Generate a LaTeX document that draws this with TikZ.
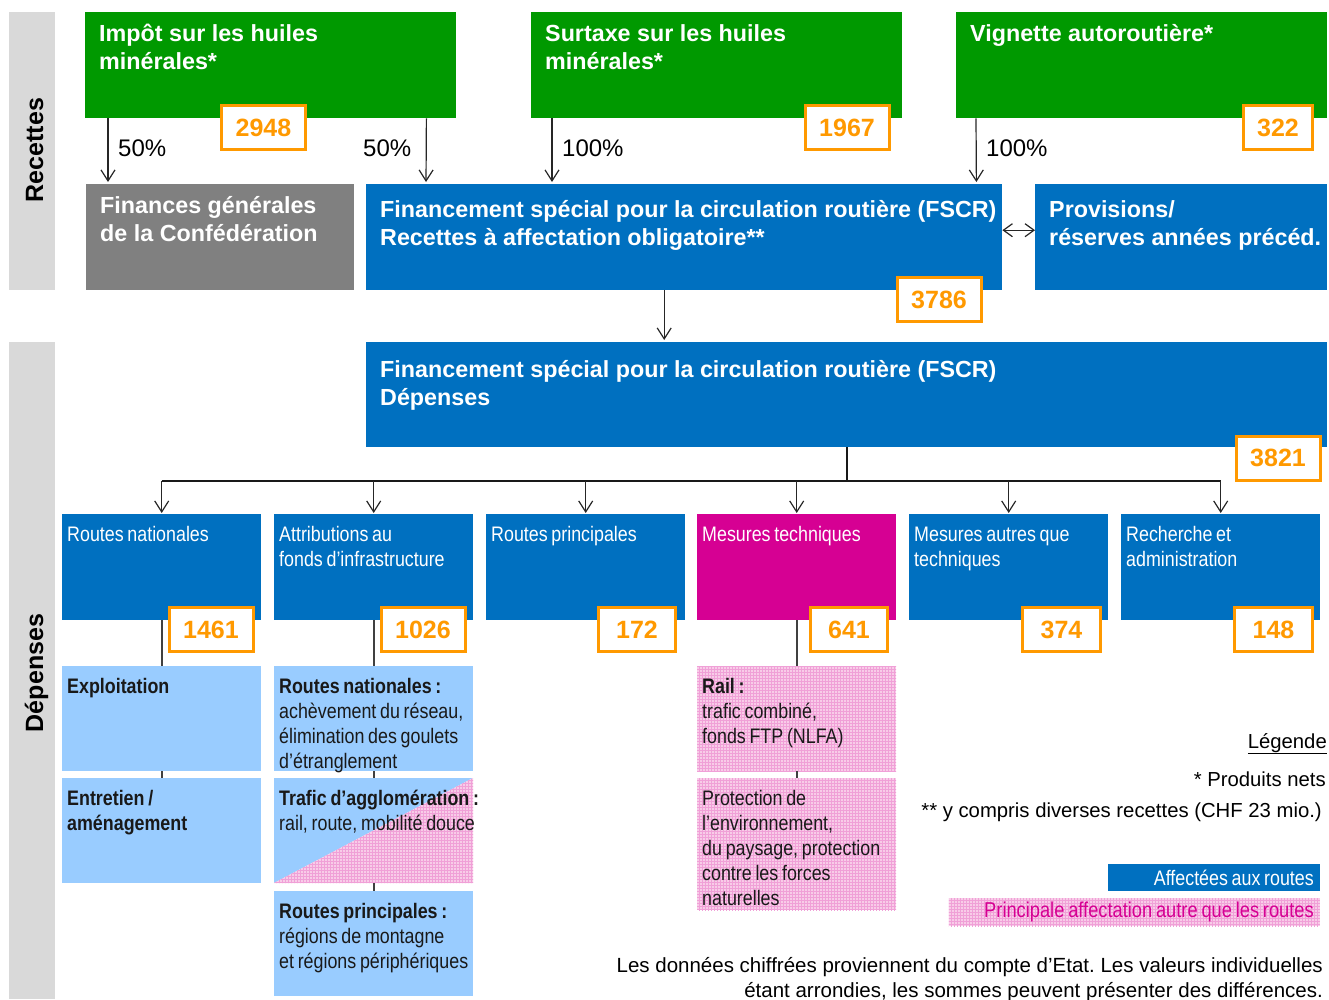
\documentclass[tikz,border=0pt]{standalone}
\usepackage{fontspec}
\setmainfont{Liberation Sans}
\newfontfamily\narrowfont[FakeStretch=0.85, WordSpace=0.75]{Liberation Sans}
\usetikzlibrary{arrows.meta,patterns}
\hyphenpenalty=10000
\exhyphenpenalty=10000
\frenchspacing

\definecolor{recgreen}{RGB}{0,153,0}
\definecolor{fscrblue}{RGB}{0,112,192}
\definecolor{fingray}{RGB}{128,128,128}
\definecolor{techpink}{RGB}{214,0,147}
\definecolor{paleblue}{RGB}{153,204,255}
\definecolor{valorange}{RGB}{255,153,0}
\definecolor{bandgray}{RGB}{217,217,217}
\definecolor{gridpink}{RGB}{248,204,232}
\definecolor{gridline}{RGB}{240,160,215}

\begin{document}
\begin{tikzpicture}[x=1pt, y=-1pt,
  head/.style={anchor=north west, inner xsep=14pt, inner ysep=0pt, text height=29pt,
    align=flush left, text=white, font=\bfseries\fontsize{23.3}{28}\selectfont},
  col/.style={anchor=north west, inner xsep=5pt, inner ysep=0pt, text height=27pt,
    text depth=79pt, text width=189pt, align=flush left, text=white,
    font=\narrowfont\fontsize{21}{25}\selectfont},
  sub/.style={anchor=north west, inner xsep=5pt, inner ysep=0pt, text height=27pt,
    text depth=78pt, text width=189pt, align=flush left, text=black!90,
    font=\narrowfont\fontsize{21}{25}\selectfont},
  pinkfill/.style={fill=gridpink, postaction={pattern=grid, pattern color=gridline}},
  val/.style={draw=valorange, line width=3pt, fill=white, text=valorange, inner sep=0pt,
    minimum width=84pt, minimum height=44pt, font=\bfseries\fontsize{25}{30}\selectfont},
  pct/.style={anchor=base west, inner sep=0pt, font=\fontsize{24}{28}\selectfont},
  side/.style={rotate=90, anchor=base, font=\bfseries\fontsize{25}{30}\selectfont},
  arr/.style={draw=black!85, line width=1.2pt, shorten >=2pt,
    -{Straight Barb[length=11pt,width=14pt]}},
  dblarr/.style={draw=black!85, line width=1.2pt,
    {Straight Barb[length=9pt,width=13pt]}-{Straight Barb[length=9pt,width=13pt]}},
  tree/.style={draw=black!90, line width=1.6pt},
  link/.style={draw=black!75, line width=2pt},
  note/.style={anchor=base east, inner sep=0pt, font=\fontsize{20.3}{25}\selectfont}]

\useasboundingbox (0,0) rectangle (1329,999);

% side bands
\fill[bandgray] (9,12) rectangle (55,290);
\fill[bandgray] (9,342) rectangle (55,999);
\node[side] (rec) at (43,150) {Recettes};
\node[side] (dpn) at (43,673) {Dépenses};

% recettes
\node[head, fill=recgreen, text width=343pt, text depth=77pt] (impot) at (85,12) {Impôt sur les huiles\\minérales*};
\node[head, fill=recgreen, text width=343pt, text depth=77pt] (surtaxe) at (531,12) {Surtaxe sur les huiles\\minérales*};
\node[head, fill=recgreen, text width=343pt, text depth=77pt] (vignette) at (956,12) {Vignette autoroutière*};

\node[head, fill=fingray, text width=240pt, text depth=77pt] (fingen) at (86,184) {Finances générales\\de la Confédération};
\node[head, fill=fscrblue, text width=608pt, text height=33pt, text depth=73pt] (fscr) at (366,184)
  {\mbox{Financement spécial pour la circulation routière (FSCR)}\\Recettes à affectation obligatoire**};
\node[head, fill=fscrblue, text width=264pt, text height=33pt, text depth=73pt] (prov) at (1035,184) {Provisions/\\\mbox{réserves années précéd.}};

\node[pct] (p1) at (118,156) {50\%};
\node[pct] (p2) at (363,156) {50\%};
\node[pct] (p3) at (562,156) {100\%};
\node[pct] (p4) at (986,156) {100\%};

\draw[arr] ([xshift=23pt]impot.south west) -- ([xshift=22pt]fingen.north west);
\draw[arr] ([xshift=-30pt]impot.south east) -- ([xshift=60pt]fscr.north west);
\draw[arr] ([xshift=21pt]surtaxe.south west) -- ([xshift=186pt]fscr.north west);
\draw[arr] ([xshift=20pt]vignette.south west) -- ([xshift=-26pt]fscr.north east);
\draw[dblarr] ([yshift=7pt]fscr.east) -- ([yshift=7pt]prov.west);

% depenses
\node[head, fill=fscrblue, text width=933pt, text height=35pt, text depth=70pt] (dep) at (366,342)
  {Financement spécial pour la circulation routière (FSCR)\\Dépenses};
\draw[arr] ([xshift=-20pt]fscr.south) -- ([xshift=-20pt]fscr.south |- dep.north);

\node[col, fill=fscrblue] (rn) at (62,514) {Routes nationales};
\node[col, fill=fscrblue] (fi) at (274,514) {Attributions au\\fonds d’infrastructure};
\node[col, fill=fscrblue] (rp) at (486,514) {Routes principales};
\node[col, fill=techpink] (mt) at (697,514) {Mesures techniques};
\node[col, fill=fscrblue] (mat) at (909,514) {Mesures autres que\\techniques};
\node[col, fill=fscrblue] (ra) at (1121,514) {Recherche et\\administration};

\coordinate (bus) at (847,481);
\draw[tree] (dep.south) -- (dep.south |- bus);
\draw[tree] (bus -| rn.north) -- (bus -| ra.north);
\foreach \c in {rn,fi,rp,mt,mat,ra}
  \draw[arr, shorten >=1pt] (bus -| \c.north) -- (\c.north);

% sous-postes
\fill[paleblue] (274,778) -- (473,778) -- (274,883) -- cycle;
\fill[pinkfill] (274,883) -- (473,778) -- (473,883) -- cycle;

\node[sub, fill=paleblue] (expl) at (62,666) {\textbf{Exploitation}};
\node[sub, fill=paleblue] (entr) at (62,778) {\textbf{Entretien /}\\\textbf{aménagement}};
\node[sub, fill=paleblue] (rnat) at (274,666) {\textbf{Routes nationales :}\\\mbox{achèvement du réseau,}\\\mbox{élimination des goulets}\\d’étranglement};
\node[sub] (traf) at (274,778) {\mbox{\textbf{Trafic d’agglomération :}}\\\mbox{rail, route, mobilité douce}};
\node[sub, fill=paleblue] (rprin) at (274,891) {\textbf{Routes principales :}\\régions de montagne\\\mbox{et régions périphériques}};
\node[sub, pinkfill] (rail) at (697,666) {\textbf{Rail :}\\trafic combiné,\\fonds FTP (NLFA)};
\node[sub, pinkfill, text depth=105pt] (prot) at (697,778) {Protection de\\l’environnement,\\\mbox{du paysage, protection}\\contre les forces\\naturelles};

\draw[link] (rn.south) -- (expl.north);
\draw[link] (expl.south) -- (entr.north);
\draw[link] (fi.south) -- (rnat.north);
\draw[link] (rnat.south) -- (traf.north);
\draw[link] (traf.south) -- (rprin.north);
\draw[link] (mt.south) -- (rail.north);
\draw[link] (rail.south) -- (prot.north);

% montants
\node[val] (v2948) at (263.5,127.5) {2948};
\node[val] (v1967) at (847,127.5) {1967};
\node[val, minimum width=69pt] (v322) at (1278,127.5) {322};
\node[val] (v3786) at (939,299.5) {3786};
\node[val] (v3821) at (1278,458) {3821};
\node[val] (v1461) at (211,629.5) {1461};
\node[val] (v1026) at (423,629.5) {1026};
\node[val, minimum width=77pt] (v172) at (637,629.5) {172};
\node[val, minimum width=77pt] (v641) at (849,629.5) {641};
\node[val, minimum width=78pt] (v374) at (1061.5,629.5) {374};
\node[val, minimum width=78pt] (v148) at (1273.5,629.5) {148};

% legende
\node[note] (leg) at (1327,748) {\underline{Légende}};
\node[note] (star1) at (1326,786) {* Produits nets};
\node[note] (star2) at (1322,817) {** y compris diverses recettes (CHF 23 mio.)};
\node[anchor=north east, fill=fscrblue, text=white, inner xsep=6pt, inner ysep=0pt,
  text width=200pt, minimum height=27pt, align=flush right,
  font=\narrowfont\fontsize{21}{25}\selectfont] (legblue) at (1320,864) {Affectées aux routes};
\node[anchor=north east, pinkfill, text=techpink, inner xsep=6pt, inner ysep=0pt,
  text width=359pt, minimum height=28pt, align=flush right,
  font=\narrowfont\fontsize{21.5}{25}\selectfont] (legpink) at (1320,898) {Principale affectation autre que les routes};

\node[note, text width=720pt, align=flush right, font=\fontsize{20.5}{25}\selectfont] (src) at (1323,972)
  {Les données chiffrées proviennent du compte d’Etat. Les valeurs individuelles\\étant arrondies, les sommes peuvent présenter des différences.};

\end{tikzpicture}
\end{document}
